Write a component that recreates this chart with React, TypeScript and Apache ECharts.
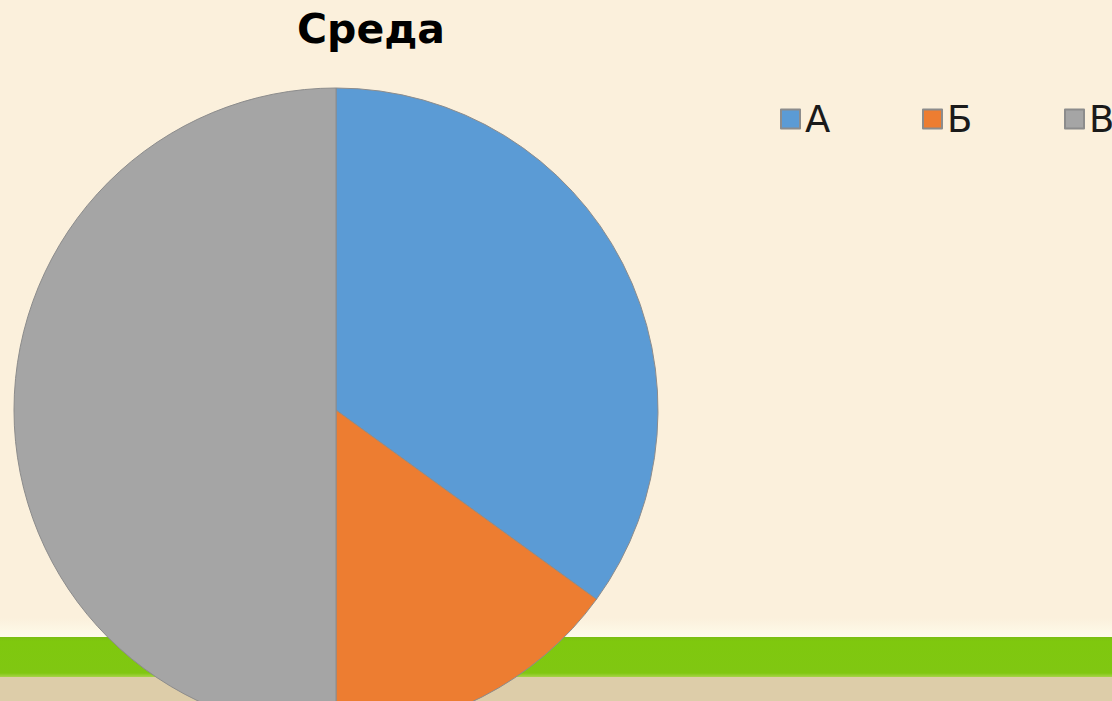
import React, { useEffect, useRef } from "react";
import * as echarts from "echarts";

const titleText = "Среда";
const categories = ["А", "Б", "В"];
const values = [35, 15, 50];
const colors = ["#5B9BD5", "#ED7D31", "#A5A5A5"];

export default function App() {
  const ref = useRef<HTMLDivElement>(null);
  useEffect(() => {
    if (!ref.current) return;
    const chart = echarts.init(ref.current, null, { renderer: "svg" });
    chart.setOption({
      animation: false,
      backgroundColor: "#FBF0DC",
      title: {
        text: titleText,
        left: 371,
        textAlign: "center",
        top: 5,
        padding: 0,
        textStyle: {
          fontFamily: "DejaVu Sans",
          fontWeight: "bold",
          fontSize: 41,
          lineHeight: 48,
          color: "#000000",
        },
      },
      legend: {
        data: categories,
        left: 780,
        top: 98,
        width: 500,
        padding: 0,
        orient: "horizontal",
        icon: "rect",
        itemWidth: 19,
        itemHeight: 19,
        itemGap: 77,
        selectedMode: false,
        textStyle: {
          fontFamily: "DejaVu Sans",
          fontSize: 37,
          lineHeight: 42,
          width: 40,
          color: "#1a1a1a",
          padding: [0, 0, 0, 0],
        },
      },
      graphic: {
        elements: [
          {
            type: "rect",
            z: 1,
            silent: true,
            shape: { x: 0, y: 618, width: 1112, height: 19 },
            style: {
              fill: new echarts.graphic.LinearGradient(0, 0, 0, 1, [
                { offset: 0, color: "#FBF0DC" },
                { offset: 1, color: "#FEFBEA" },
              ]),
            },
          },
          {
            type: "rect",
            z: 1,
            silent: true,
            shape: { x: 0, y: 637, width: 1112, height: 40 },
            style: {
              fill: new echarts.graphic.LinearGradient(0, 0, 0, 1, [
                { offset: 0, color: "#79BE10" },
                { offset: 0.1, color: "#7FC80E" },
                { offset: 0.9, color: "#80C712" },
                { offset: 1, color: "#A8D24A" },
              ]),
            },
          },
          {
            type: "rect",
            z: 1,
            silent: true,
            shape: { x: 0, y: 677, width: 1112, height: 24 },
            style: { fill: "#DDCDA9" },
          },
        ],
      },
      series: [
        {
          type: "pie",
          center: [336, 410],
          radius: 322,
          startAngle: 90,
          clockwise: true,
          z: 2,
          label: { show: false },
          labelLine: { show: false },
          emphasis: { disabled: true },
          itemStyle: { borderColor: "#8C8C8C", borderWidth: 1 },
          data: categories.map((name, i) => ({
            name,
            value: values[i],
            itemStyle: { color: colors[i] },
          })),
        },
      ],
    });
    return () => chart.dispose();
  }, []);
  return (
    <div
      ref={ref}
      style={{ position: "absolute", left: 0, top: 0, width: 1112, height: 701 }}
    />
  );
}
